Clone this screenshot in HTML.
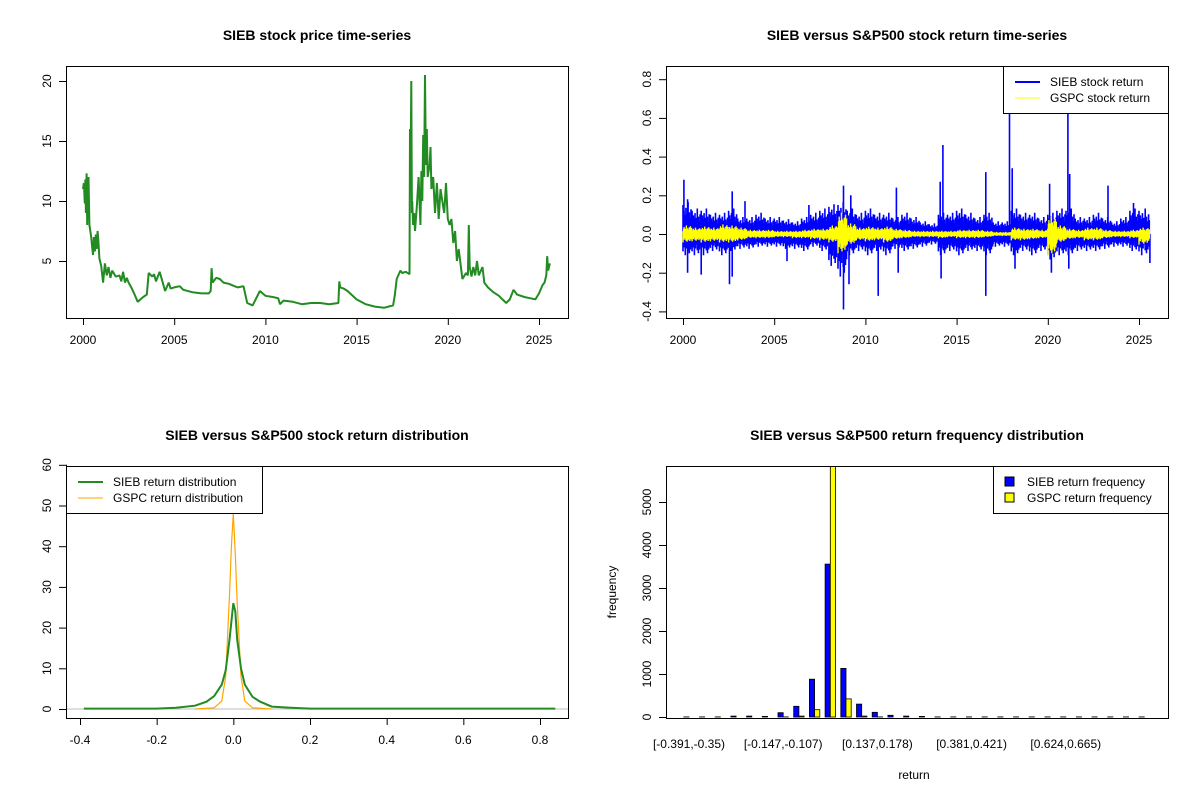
<!DOCTYPE html>
<html><head><meta charset="utf-8">
<style>
body{margin:0;background:#fff;}
svg{display:block;font-family:"Liberation Sans",Arial,sans-serif;}
.t{font-weight:bold;font-size:14px;text-anchor:middle;}
.tk{font-size:12px;fill:#000;}
</style></head>
<body>
<svg id="c" width="1200" height="800" viewBox="0 0 1200 800">
<rect width="1200" height="800" fill="#fff"/>
</svg>
<script>
// ---------- Panel 1: price ----------
const priceYears=[2000,2000.05,2000.1,2000.13,2000.16,2000.2,2000.23,2000.25,2000.28,2000.3,2000.35,2000.4,2000.45,2000.5,2000.55,2000.6,2000.65,2000.7,2000.75,2000.8,2000.85,2000.9,2001,2001.1,2001.2,2001.3,2001.4,2001.5,2001.6,2001.8,2002,2002.1,2002.2,2002.3,2002.4,2002.5,2002.65,2002.8,2003,2003.3,2003.5,2003.6,2003.8,2003.9,2004,2004.2,2004.3,2004.5,2004.7,2004.8,2005,2005.3,2005.5,2006,2006.5,2006.9,2007,2007.05,2007.1,2007.3,2007.5,2007.7,2008,2008.3,2008.5,2008.8,2009,2009.3,2009.7,2010,2010.4,2010.7,2010.8,2011,2011.5,2012,2012.5,2013,2013.5,2014,2014.05,2014.1,2014.3,2014.5,2015,2015.5,2016,2016.5,2017,2017.1,2017.2,2017.4,2017.5,2017.7,2017.9,2017.93,2017.96,2017.98,2018.0,2018.03,2018.05,2018.1,2018.15,2018.2,2018.3,2018.4,2018.5,2018.55,2018.6,2018.65,2018.7,2018.75,2018.8,2018.85,2018.9,2019,2019.05,2019.1,2019.2,2019.3,2019.4,2019.5,2019.6,2019.7,2019.8,2019.9,2020,2020.1,2020.2,2020.3,2020.4,2020.5,2020.6,2020.8,2021,2021.1,2021.15,2021.2,2021.3,2021.4,2021.5,2021.6,2021.7,2021.9,2022,2022.2,2022.5,2022.8,2023,2023.2,2023.4,2023.6,2023.8,2024.2,2024.5,2024.8,2025,2025.2,2025.3,2025.4,2025.45,2025.5,2025.6];
const priceVals=[11,11.5,9.8,11.8,9,12.3,8,11.5,9,12,8,7.5,7,6.2,5.5,7,5.8,7.2,6,7.5,6.5,5.2,4.6,3.2,4.8,3.8,4.5,3.6,4.2,3.7,3.8,3.3,4.1,3.2,3.6,3.2,2.8,2.3,1.6,2,2.2,4,3.7,3.9,3.3,4.1,3.6,2.5,3.2,2.7,2.8,2.9,2.6,2.4,2.3,2.3,2.5,4.4,3.2,3.6,3.5,3.2,3.1,2.9,2.8,2.9,1.5,1.3,2.5,2.1,2,1.9,1.4,1.7,1.6,1.4,1.5,1.5,1.4,1.5,3.3,2.8,2.7,2.5,1.8,1.4,1.2,1.1,1.3,2.2,3.5,4.2,4,4.1,3.9,16,12,17,20,9,10,8,9,7.5,9.5,12,8,12.5,10,15.5,12,20.5,13,16,12,13,14.5,11,12,9,11.5,8.5,11,10,9,11.5,8.5,8,8.5,6.5,7.5,5,6,3.5,4,3.8,8,4.5,3.7,4.5,3.8,5,3.8,4.5,3.2,2.8,2.4,2.1,1.8,1.5,1.8,2.6,2.2,2,1.9,1.8,2.3,3,3.2,3.8,5.4,4.2,4.8,3]
// ---------- Panel 2: returns (half-year envelopes, 2000.0 .. 2025.5) ----------
const retHalfYears=[2000,2000.5,2001,2001.5,2002,2002.5,2003,2003.5,2004,2004.5,2005,2005.5,2006,2006.5,2007,2007.5,2008,2008.5,2009,2009.5,2010,2010.5,2011,2011.5,2012,2012.5,2013,2013.5,2014,2014.5,2015,2015.5,2016,2016.5,2017,2017.5,2018,2018.5,2019,2019.5,2020,2020.5,2021,2021.5,2022,2022.5,2023,2023.5,2024,2024.5,2025,2025.6];
const siebUp=[0.15,0.12,0.12,0.1,0.1,0.12,0.08,0.08,0.1,0.08,0.08,0.07,0.06,0.08,0.1,0.12,0.14,0.15,0.12,0.1,0.12,0.1,0.1,0.08,0.1,0.08,0.06,0.05,0.1,0.1,0.12,0.1,0.08,0.1,0.06,0.06,0.12,0.1,0.1,0.08,0.1,0.12,0.12,0.08,0.08,0.1,0.08,0.06,0.08,0.12,0.12,0.1];
const siebLo=[-0.1,-0.1,-0.1,-0.08,-0.1,-0.08,-0.07,-0.07,-0.06,-0.06,-0.06,-0.07,-0.07,-0.08,-0.06,-0.08,-0.15,-0.2,-0.1,-0.08,-0.1,-0.08,-0.1,-0.07,-0.08,-0.07,-0.06,-0.05,-0.1,-0.08,-0.1,-0.08,-0.08,-0.1,-0.06,-0.06,-0.1,-0.08,-0.1,-0.08,-0.12,-0.1,-0.1,-0.08,-0.08,-0.08,-0.07,-0.06,-0.06,-0.08,-0.1,-0.12];
const gspcUp=[0.04,0.03,0.035,0.03,0.045,0.04,0.03,0.02,0.02,0.02,0.015,0.015,0.015,0.02,0.025,0.025,0.04,0.1,0.05,0.03,0.035,0.03,0.035,0.025,0.02,0.015,0.015,0.015,0.015,0.015,0.02,0.02,0.02,0.015,0.01,0.01,0.03,0.025,0.025,0.02,0.08,0.04,0.025,0.02,0.03,0.03,0.02,0.015,0.015,0.02,0.03,0.025];
const gspcLo=[-0.04,-0.035,-0.04,-0.035,-0.04,-0.04,-0.03,-0.02,-0.02,-0.02,-0.015,-0.015,-0.02,-0.02,-0.025,-0.03,-0.04,-0.09,-0.05,-0.03,-0.035,-0.03,-0.04,-0.025,-0.02,-0.015,-0.015,-0.015,-0.02,-0.015,-0.02,-0.02,-0.02,-0.015,-0.01,-0.01,-0.03,-0.03,-0.025,-0.02,-0.1,-0.04,-0.025,-0.02,-0.03,-0.03,-0.02,-0.015,-0.015,-0.02,-0.05,-0.025];
const spikeT=[2000.05,2000.25,2000.25,2001.0,2002.55,2002.7,2002.7,2003.4,2005.7,2006.9,2008.8,2008.8,2009.1,2009.2,2010.7,2011.7,2011.8,2014.1,2014.25,2014.15,2016.6,2016.6,2017.9,2018.05,2018.2,2020.1,2020.2,2021.1,2021.2,2021.15,2023.3,2024.7,2025.6];
const spikeV=[0.28,0.18,-0.2,-0.21,-0.26,0.22,-0.22,0.17,-0.14,0.15,0.25,-0.39,-0.26,0.2,-0.32,0.24,-0.2,0.27,0.46,-0.23,0.32,-0.32,0.8,0.34,-0.18,0.26,-0.2,0.8,0.31,-0.18,0.25,0.16,-0.15];
// ---------- Panel 3: densities ----------
const siebDx=[-0.39,-0.2,-0.15,-0.1,-0.07,-0.05,-0.03,-0.02,-0.01,0,0.005,0.01,0.02,0.03,0.05,0.07,0.1,0.15,0.2,0.4,0.84];
const siebDy=[0.1,0.1,0.3,0.8,1.8,3.2,6,9.5,17,26,24,17,10,6,3,1.8,0.6,0.3,0.1,0.1,0.1];
const gspcDx=[-0.1,-0.05,-0.03,-0.02,-0.01,-0.005,0,0.005,0.01,0.02,0.03,0.05,0.1];
const gspcDy=[0,0.3,2,8,28,40,48,38,26,8,2,0.3,0];
// ---------- Panel 4: histogram ----------
const binLabels=["[-0.391,-0.35)","[-0.147,-0.107)","[0.137,0.178)","[0.381,0.421)","[0.624,0.665)"];
const binLabelIdx=[0,6,12,18,24];
const siebFreq=[2,2,2,20,20,15,100,250,880,3555,1130,300,110,40,20,15,3,2,2,2,2,2,2,2,2,2,2,2,2,2];
const gspcFreq=[0,0,0,0,0,0,2,20,170,6000,420,20,2,0,0,0,0,0,0,0,0,0,0,0,0,0,0,0,0,0];

// visual texture factors for dense return rendering (styling only)
const texture=[1,0.45,0.8,0.35,0.65,0.9,0.4,0.7,0.5,1.1,0.45,0.75,0.55,0.3,0.85,0.6];

const NS="http://www.w3.org/2000/svg";
const svg=document.getElementById('c');
function mk(tag,attrs,parent){const e=document.createElementNS(NS,tag);for(const k in attrs)e.setAttribute(k,attrs[k]);(parent||svg).appendChild(e);return e;}
function txt(x,y,s,attrs,parent){const e=mk('text',Object.assign({x:x,y:y},attrs||{}),parent);e.textContent=s;return e;}
function lin(d0,d1,r0,r1){return v=>r0+(v-d0)*(r1-r0)/(d1-d0);}

function panel(name,box,title){
  const g=mk('g',{});
  
  
  const t=txt((box[0]+box[2])/2,40,title,{class:'t'},g);
  t.setAttribute('y',box[4]);
  
  
  return g;
}
function frame(g,name,b){
  const r=mk('rect',{x:b[0]+0.5,y:b[1]+0.5,width:b[2]-b[0],height:b[3]-b[1],fill:'none',stroke:'#000','stroke-width':1},g);
  
  
}
function xaxis(g,name,vals,labels,X,yb){
  const a=mk('g',{},g);
  
  
  mk('line',{x1:X(vals[0]),x2:X(vals[vals.length-1]),y1:yb+0.5,y2:yb+0.5,stroke:'#000'},a);
  vals.forEach((v,i)=>{mk('line',{x1:X(v)+0.5,x2:X(v)+0.5,y1:yb,y2:yb+7,stroke:'#000'},a);
    txt(X(v),yb+26,labels[i],{class:'tk','text-anchor':'middle'},a);});
}
function yaxis(g,name,vals,labels,Y,xl){
  const a=mk('g',{},g);
  
  
  mk('line',{x1:xl+0.5,x2:xl+0.5,y1:Y(vals[0]),y2:Y(vals[vals.length-1]),stroke:'#000'},a);
  vals.forEach((v,i)=>{mk('line',{x1:xl-7,x2:xl,y1:Y(v)+0.5,y2:Y(v)+0.5,stroke:'#000'},a);
    const tx=xl-15;txt(tx,Y(v),labels[i],{class:'tk','text-anchor':'middle',transform:`rotate(-90 ${tx} ${Y(v)})`},a);});
}
function legend(g,name,x,y,w,items,tx){
  const L=mk('g',{},g);
  
  
  mk('rect',{x:x+0.5,y:y+0.5,width:w,height:47,fill:'#fff',stroke:'#000'},L);
  items.forEach((it,i)=>{
    const cy=y+16+i*16;
    const en=mk('g',{},L);
    
    
    if(it.box) mk('rect',{x:x+12,y:cy-5,width:9,height:9,fill:it.color,stroke:'#000'},en);
    else mk('line',{x1:x+12,x2:x+37,y1:cy,y2:cy,stroke:it.color,'stroke-width':it.w},en);
    txt(x+(tx||47),cy+4,it.label,{class:'tk'},en);
  });
}

// Panel 1
{
 const b=[66,66,568,318];
 const g=panel('price-panel',[66,0,568,0,40],'SIEB stock price time-series');
 const X=lin(2000,2025,83,539), Y=lin(0,20,321,81);
 const pts=priceYears.map((t,i)=>X(t).toFixed(1)+','+Y(priceVals[i]).toFixed(1)).join(' ');
 const p=mk('polyline',{points:pts,fill:'none',stroke:'#228B22','stroke-width':2,'stroke-linejoin':'bevel'},g);
 
 
 frame(g,'price',b);
 xaxis(g,'price',[2000,2005,2010,2015,2020,2025],['2000','2005','2010','2015','2020','2025'],X,318);
 yaxis(g,'price',[5,10,15,20],['5','10','15','20'],Y,66);
}
// Panel 2
{
 const b=[666,66,1168,318];
 const g=panel('return-panel',[666,0,1168,0,40],'SIEB versus S&P500 stock return time-series');
 const X=lin(2000,2025,683,1139), Y=lin(0,0.2,234,195.3);
 let d='';let n=0;
 for(let i=0;i<retHalfYears.length-1;i++){
   const t0=retHalfYears[i],t1=retHalfYears[i+1];
   const steps=16;
   for(let k=0;k<steps;k++){const t=t0+(t1-t0)*k/steps;const x=X(t).toFixed(1);
     const fu=texture[n%texture.length], fl=texture[(n+5)%texture.length]; n++;
     d+=`M${x},${Y(siebUp[i]*fu).toFixed(1)}V${Y(siebLo[i]*fl).toFixed(1)}`;}
 }
 spikeT.forEach((t,i)=>{d+=`M${X(t).toFixed(1)},${Y(0).toFixed(1)}V${Y(spikeV[i]).toFixed(1)}`;});
 const s=mk('path',{d:d,stroke:'#0000FF','stroke-width':1.6,fill:'none'},g);
 
 
 let d2='';n=0;
 for(let i=0;i<retHalfYears.length-1;i++){
   const t0=retHalfYears[i],t1=retHalfYears[i+1];
   for(let k=0;k<16;k++){const t=t0+(t1-t0)*k/16;const x=X(t).toFixed(1);
     const fu=texture[(n+3)%texture.length], fl=texture[(n+9)%texture.length]; n++;
     d2+=`M${x},${Y(gspcUp[i]*fu).toFixed(1)}V${Y(gspcLo[i]*fl).toFixed(1)}`;}
 }
 const s2=mk('path',{d:d2,stroke:'#FFFF00','stroke-width':1.4,fill:'none'},g);
 
 
 frame(g,'return',b);
 xaxis(g,'return',[2000,2005,2010,2015,2020,2025],['2000','2005','2010','2015','2020','2025'],X,318);
 yaxis(g,'return',[-0.4,-0.2,0,0.2,0.4,0.6,0.8],['-0.4','-0.2','0.0','0.2','0.4','0.6','0.8'],Y,666);
 legend(g,'return',1003,66,165,[{color:'#0000FF',w:2,label:'SIEB stock return'},{color:'#FFFF00',w:1,label:'GSPC stock return'}]);
}
// Panel 3
{
 const b=[66,466,568,718];
 const g=panel('density-panel',[66,0,568,0,440],'SIEB versus S&P500 stock return distribution');
 const X=lin(-0.4,0.8,80,540), Y=lin(0,10,709,668.3);
 mk('line',{x1:66,x2:568,y1:Y(0),y2:Y(0),stroke:'#bebebe'},g);
 const p1=mk('polyline',{points:gspcDx.map((v,i)=>X(v).toFixed(1)+','+Y(gspcDy[i]).toFixed(1)).join(' '),fill:'none',stroke:'#FFA500','stroke-width':1.2},g);
 
 
 const p2=mk('polyline',{points:siebDx.map((v,i)=>X(v).toFixed(1)+','+Y(siebDy[i]).toFixed(1)).join(' '),fill:'none',stroke:'#228B22','stroke-width':2},g);
 
 
 frame(g,'density',b);
 xaxis(g,'density',[-0.4,-0.2,0,0.2,0.4,0.6,0.8],['-0.4','-0.2','0.0','0.2','0.4','0.6','0.8'],X,718);
 yaxis(g,'density',[0,10,20,30,40,50,60],['0','10','20','30','40','50','60'],Y,66);
 legend(g,'density',66,466,196,[{color:'#228B22',w:2,label:'SIEB return distribution'},{color:'#FFA500',w:1,label:'GSPC return distribution'}]);
}
// Panel 4
{
 const b=[666,466,1168,718];
 const g=panel('histogram-panel',[666,0,1168,0,440],'SIEB versus S&P500 return frequency distribution');
 const G=i=>689+15.7*i, Y=lin(0,1000,717,674);
 const cl=mk('clipPath',{id:'hc'},g);mk('rect',{x:666,y:466,width:502,height:252},cl);
 const bars=mk('g',{'clip-path':'url(#hc)'},g);
 siebFreq.forEach((v,i)=>{const r=mk('rect',{x:(G(i)-5.2).toFixed(1),y:Y(v).toFixed(1),width:5.2,height:(Y(0)-Y(v)).toFixed(1),fill:'#0000FF',stroke:'#000','stroke-width':0.8},bars);
   
   });
 gspcFreq.forEach((v,i)=>{const r=mk('rect',{x:G(i).toFixed(1),y:Y(v).toFixed(1),width:5.2,height:(Y(0)-Y(v)).toFixed(1),fill:'#FFFF00',stroke:'#000','stroke-width':0.8},bars);
   
   });
 frame(g,'histogram',b);
 binLabelIdx.forEach((bi,j)=>{const t=txt(G(bi),748,binLabels[j],{class:'tk','text-anchor':'middle'},g);
   
   });
 yaxis(g,'histogram',[0,1000,2000,3000,4000,5000],['0','1000','2000','3000','4000','5000'],Y,666);
 const xt=txt(914,779,'return',{class:'tk','text-anchor':'middle'},g);
 
 
 const yt=txt(616,592,'frequency',{class:'tk','text-anchor':'middle',transform:'rotate(-90 616 592)'},g);
 
 
 legend(g,'histogram',993,466,175,[{color:'#0000FF',box:1,label:'SIEB return frequency'},{color:'#FFFF00',box:1,label:'GSPC return frequency'}],34);
}
</script>
</body></html>
